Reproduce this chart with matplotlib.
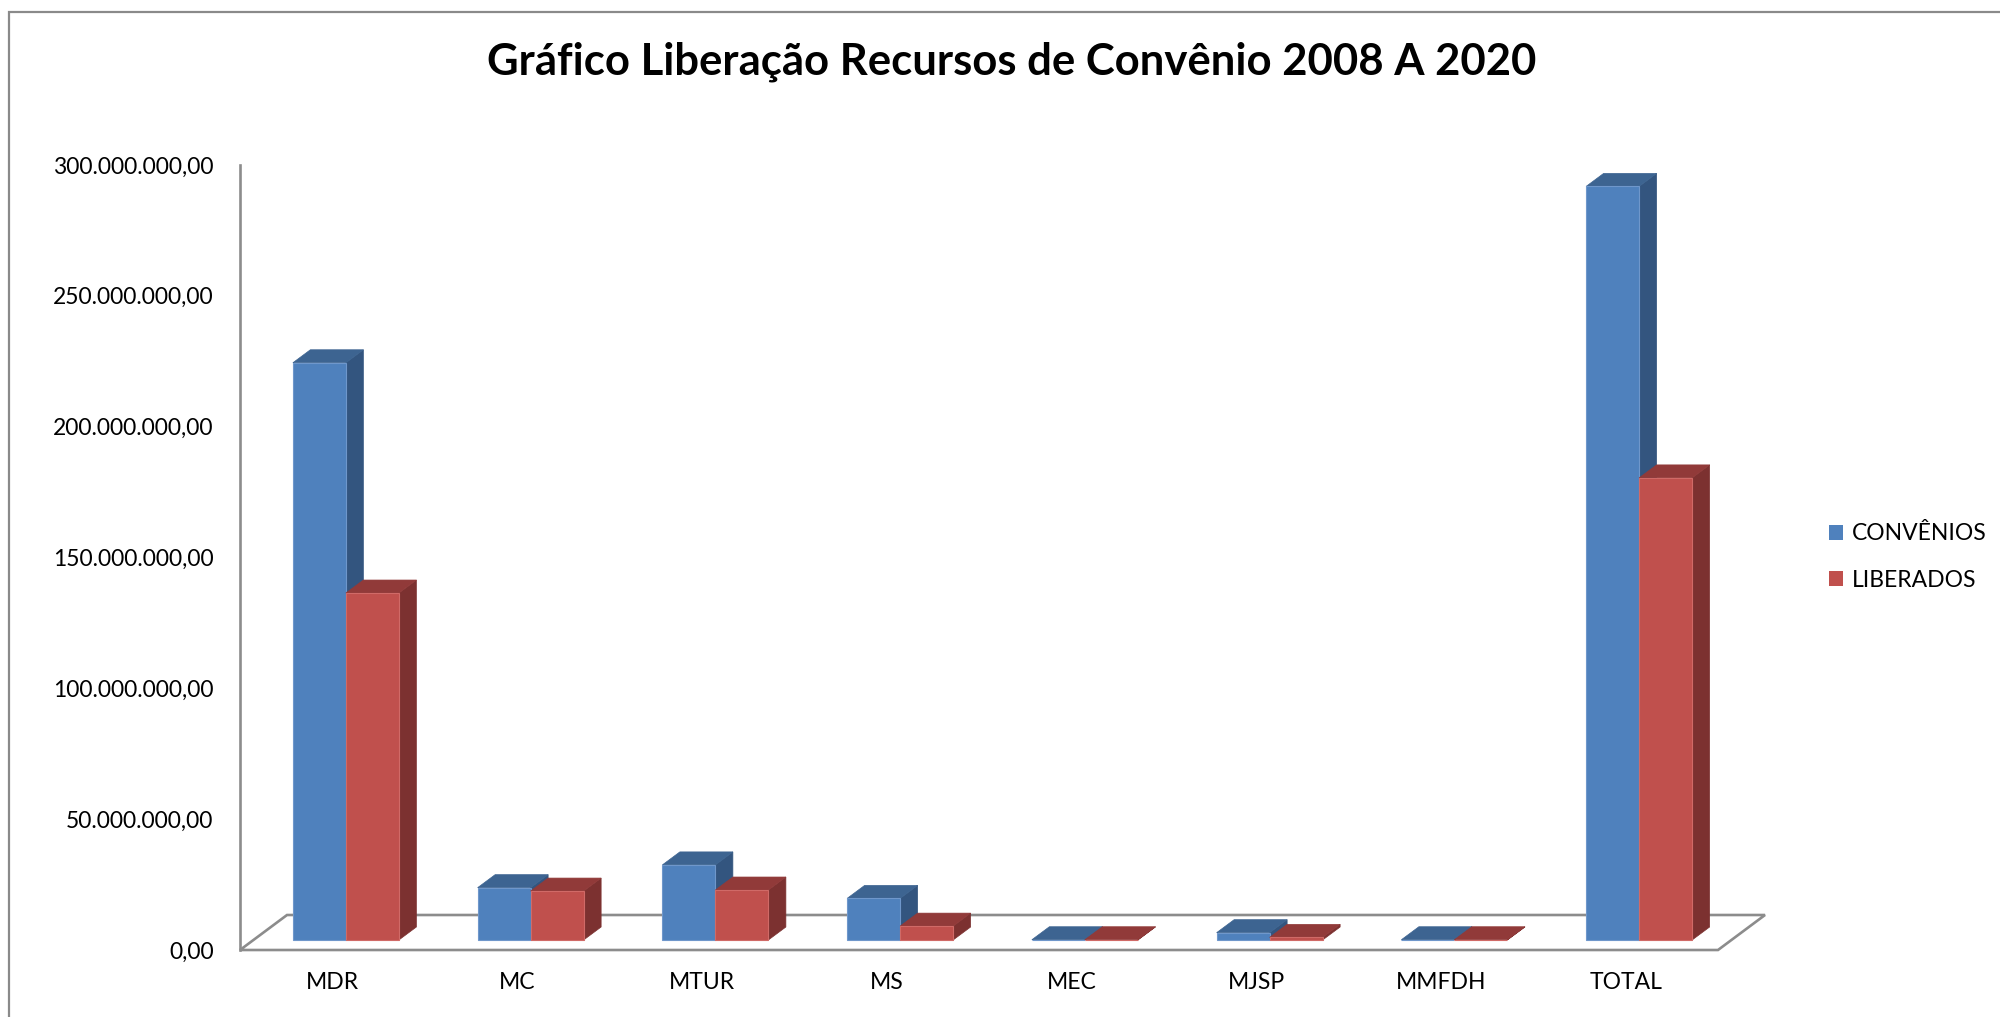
import matplotlib
matplotlib.use("Agg")
import matplotlib.pyplot as plt
from matplotlib.patches import Polygon, Patch, Rectangle

# ---- data ----
categories = ["MDR", "MC", "MTUR", "MS", "MEC", "MJSP", "MMFDH", "TOTAL"]
convenios = [220_600_000, 20_000_000, 28_700_000, 15_900_000, 100_000, 2_800_000, 100_000, 288_000_000]
liberados = [132_600_000, 18_700_000, 19_100_000, 5_300_000, 100_000, 1_000_000, 100_000, 176_600_000]
series_names = ["CONVÊNIOS", "LIBERADOS"]
y_ticks = [0, 50_000_000, 100_000_000, 150_000_000, 200_000_000, 250_000_000, 300_000_000]
title = "Gráfico Liberação Recursos de Convênio 2008 A 2020"

# ---- style ----
FONT = "Lato"
W, H = 2000, 1017
front_cols = ["#4F81BD", "#C0504D"]
top_cols = ["#3D6491", "#913A39"]
side_cols = ["#33557F", "#7C3130"]
edge_cols = ["#6F97CB", "#D06A67"]
grey = "#8C8C8C"

fig = plt.figure(figsize=(W / 100, H / 100), dpi=100)
fig.patch.set_facecolor("white")

# outer chart border
fig.add_artist(Rectangle((9 / W, -0.1), 1.2, 1.1 - 12 / H, transform=fig.transFigure,
                         fill=False, edgecolor="#8A8A8A", linewidth=1.6))

ax = fig.add_axes([240 / W, 67 / H, 1478 / W, 785 / H])
ax.set_xlim(-0.5, len(categories) - 0.5)
ax.set_ylim(0, 300_000_000)

px_x = 1478 / len(categories)          # pixels per category
px_y = 785 / 300_000_000               # pixels per value unit


def dxp(p):
    return p / px_x


def dyp(p):
    return p / px_y


# oblique depth offsets (in data units)
front_dx, front_dy = dxp(13.5), dyp(10)     # bar front plane behind floor front
bar_dx, bar_dy = dxp(17.5), dyp(13)         # bar depth
floor_dx, floor_dy = dxp(47), dyp(35)       # floor depth
bw = dxp(53)

# floor outline
x0, x1 = -0.5, len(categories) - 0.5
floor = Polygon([(x0, 0), (x1, 0), (x1 + floor_dx, floor_dy), (x0 + floor_dx, floor_dy)],
                closed=True, fill=False, edgecolor=grey, linewidth=1.9, clip_on=False, zorder=1)
ax.add_patch(floor)

series = [convenios, liberados]
for i in range(len(categories)):
    for s, vals in enumerate(series):
        v = vals[i]
        xl = i + front_dx - bw + s * bw
        xr = xl + bw
        yb = front_dy
        yt = front_dy + v
        side = Polygon([(xr, yb), (xr, yt), (xr + bar_dx, yt + bar_dy), (xr + bar_dx, yb + bar_dy)],
                       closed=True, facecolor=side_cols[s], edgecolor=side_cols[s], linewidth=0.5,
                       zorder=2 + i * 10 + s * 3, clip_on=False)
        top = Polygon([(xl, yt), (xr, yt), (xr + bar_dx, yt + bar_dy), (xl + bar_dx, yt + bar_dy)],
                      closed=True, facecolor=top_cols[s], edgecolor=top_cols[s], linewidth=0.5,
                      zorder=2 + i * 10 + s * 3 + 1, clip_on=False)
        ax.add_patch(side)
        ax.add_patch(top)
        ax.bar([xl], [v], width=bw, bottom=yb, align="edge", color=front_cols[s],
               edgecolor=edge_cols[s], linewidth=0.8, zorder=2 + i * 10 + s * 3 + 2, clip_on=False)

# axes styling
for k in ["top", "right", "bottom"]:
    ax.spines[k].set_visible(False)
ax.spines["left"].set_color(grey)
ax.spines["left"].set_linewidth(1.9)
ax.set_facecolor("none")


def fmt(v):
    s = f"{v:,.2f}"
    return s.replace(",", "X").replace(".", ",").replace("X", ".")


ax.set_yticks(y_ticks)
ax.set_yticklabels([fmt(v) for v in y_ticks], fontfamily=FONT, fontsize=16.5)
ax.set_xticks(range(len(categories)))
ax.set_xticklabels(categories, fontfamily=FONT, fontsize=16.5)
ax.tick_params(axis="y", length=0, pad=19)
ax.tick_params(axis="x", length=0, pad=16)

fig.text(1012 / W, 1 - 62 / H, title, ha="center", va="center",
         fontfamily=FONT, fontweight="bold", fontsize=31.4)

handles = [Patch(facecolor=front_cols[0]), Patch(facecolor=front_cols[1])]
fig.legend(handles, series_names, loc="center left", bbox_to_anchor=(1829 / W, 1 - 557 / H),
           bbox_transform=fig.transFigure, frameon=False, borderpad=0, borderaxespad=0,
           handlelength=0.63, handleheight=0.65, handletextpad=0.35, labelspacing=1.1,
           prop={"family": FONT, "size": 16.5})

fig.savefig("out.png", dpi=100)
